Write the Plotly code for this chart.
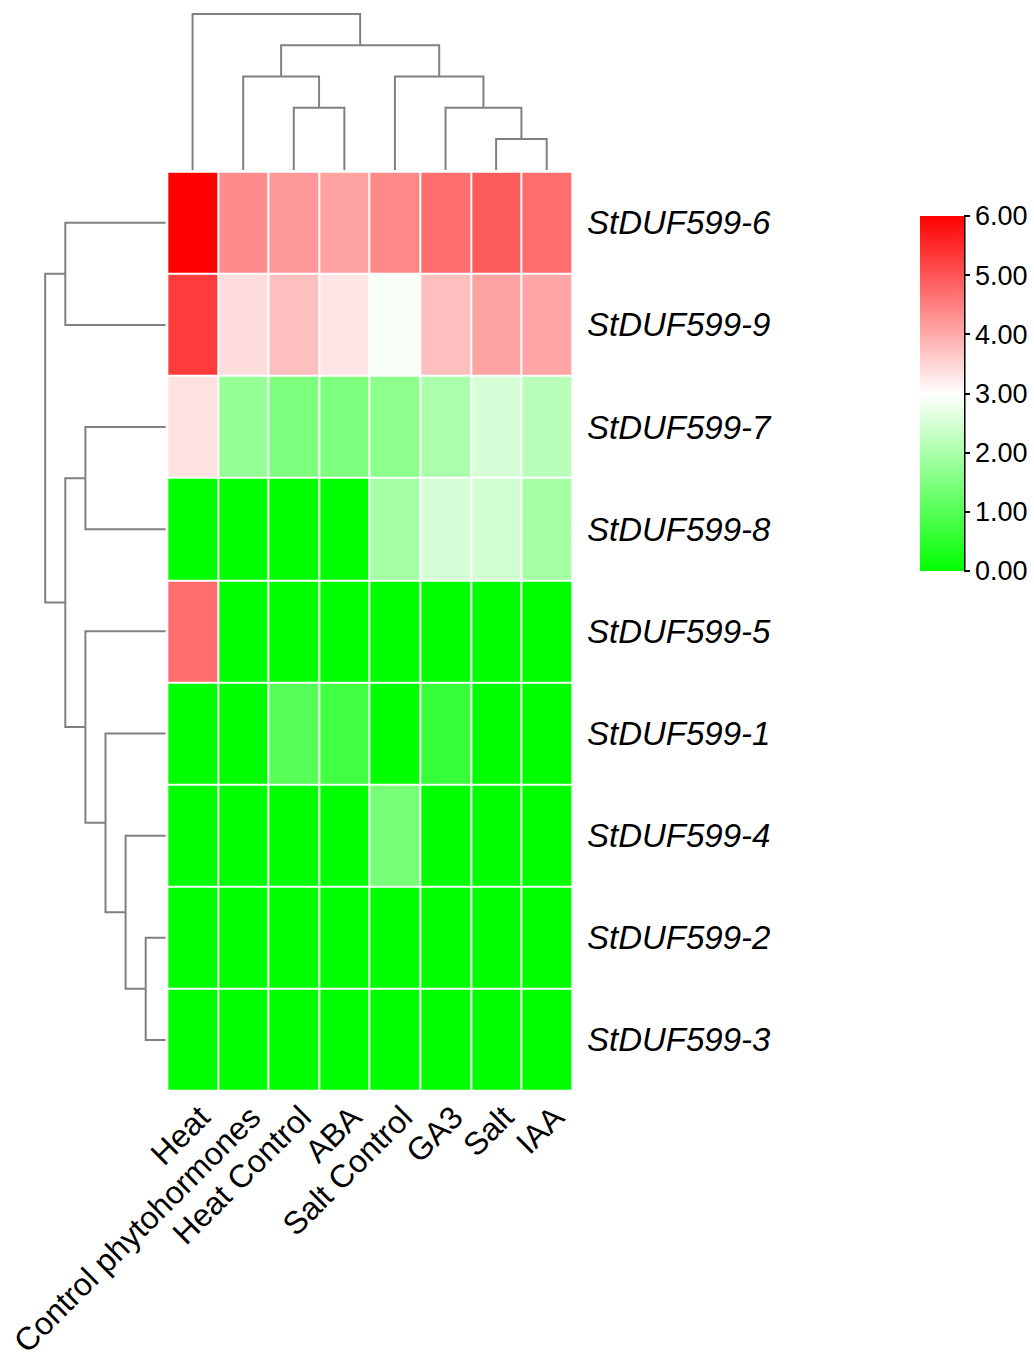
import plotly.graph_objects as go

# ---------------- data ----------------
columns = ["Heat", "Control phytohormones", "Heat Control", "ABA",
           "Salt Control", "GA3", "Salt", "IAA"]
genes = ["StDUF599-6", "StDUF599-9", "StDUF599-7", "StDUF599-8", "StDUF599-5",
         "StDUF599-1", "StDUF599-4", "StDUF599-2", "StDUF599-3"]

row_6 = [6.00, 4.35, 4.20, 4.10, 4.40, 4.70, 4.90, 4.70]
row_9 = [5.30, 3.40, 3.75, 3.30, 2.90, 3.75, 4.10, 4.05]
row_7 = [3.35, 1.76, 1.47, 1.47, 1.65, 2.00, 2.53, 2.18]
row_8 = [0.00, 0.00, 0.00, 0.00, 1.94, 2.53, 2.47, 1.94]
row_5 = [4.70, 0.00, 0.00, 0.00, 0.00, 0.00, 0.00, 0.00]
row_1 = [0.00, 0.00, 1.00, 0.76, 0.00, 0.65, 0.00, 0.00]
row_4 = [0.00, 0.00, 0.00, 0.00, 1.41, 0.00, 0.00, 0.00]
row_2 = [0.00, 0.00, 0.00, 0.00, 0.00, 0.00, 0.00, 0.00]
row_3 = [0.00, 0.00, 0.00, 0.00, 0.00, 0.00, 0.00, 0.00]
values = [row_6, row_9, row_7, row_8, row_5, row_1, row_4, row_2, row_3]

# linkage: (left node, right node, height); leaves are 0..n-1, new clusters n, n+1, ...
col_linkage = [(6, 7, 1), (2, 3, 2), (5, 8, 2), (1, 9, 3), (4, 10, 3), (11, 12, 4), (0, 13, 5)]
row_linkage = [(7, 8, 1), (6, 9, 2), (5, 10, 3), (4, 11, 4), (2, 3, 4), (13, 12, 5),
               (0, 1, 5), (15, 14, 6)]

cbar_ticks = [0, 1, 2, 3, 4, 5, 6]
cbar_text = ["0.00", "1.00", "2.00", "3.00", "4.00", "5.00", "6.00"]

# ---------------- layout helpers ----------------
W, H = 1034, 1362
def px(x):
    return x / W
def py(y):
    return 1 - y / H

FONT = "Arial, 'Liberation Sans', sans-serif"
LINE = "#808080"

hm_x = [px(167.3), px(572)]
hm_y = [py(1091), py(171.7)]


def dendro_segments(linkage, n):
    pos = {i: float(i) for i in range(n)}
    hgt = {i: 0.0 for i in range(n)}
    xs, hs = [], []
    for k, (a, b, h) in enumerate(linkage):
        xa, xb = pos[a], pos[b]
        xs += [xa, xa, xb, xb, None]
        hs += [hgt[a], h, h, hgt[b], None]
        pos[n + k] = (xa + xb) / 2
        hgt[n + k] = h
    return xs, hs


fig = go.Figure()

# heatmap
fig.add_trace(go.Heatmap(
    z=values,
    x=list(range(len(columns))),
    y=list(range(len(genes))),
    zmin=0, zmax=6,
    colorscale=[[0, "#00ff00"], [0.5, "#ffffff"], [1, "#ff0000"]],
    xgap=2, ygap=2,
    xaxis="x", yaxis="y",
    colorbar=dict(
        x=px(920), xanchor="left", y=py(216), yanchor="top",
        len=(571 - 216) / H, lenmode="fraction",
        thickness=44, thicknessmode="pixels",
        xpad=0, ypad=0, outlinewidth=0,
        tickmode="array", tickvals=cbar_ticks, ticktext=cbar_text,
        ticks="outside", ticklen=6, tickwidth=2, tickcolor="black",
        tickfont=dict(family=FONT, size=27, color="black"),
    ),
    hoverongaps=False,
))

# top dendrogram
cx, ch = dendro_segments(col_linkage, len(columns))
fig.add_trace(go.Scatter(x=cx, y=ch, mode="lines", line=dict(color=LINE, width=2),
                         xaxis="x2", yaxis="y2", hoverinfo="skip", showlegend=False))
# left dendrogram
ry, rh = dendro_segments(row_linkage, len(genes))
fig.add_trace(go.Scatter(x=rh, y=ry, mode="lines", line=dict(color=LINE, width=2),
                         xaxis="x3", yaxis="y3", hoverinfo="skip", showlegend=False))

top_unit = 31.25
left_unit = 20.1

fig.update_layout(
    width=W, height=H,
    margin=dict(l=0, r=0, t=0, b=0, autoexpand=False),
    paper_bgcolor="white", plot_bgcolor="white",
    showlegend=False,
    xaxis=dict(domain=hm_x, range=[-0.5, len(columns) - 0.5],
               tickvals=list(range(len(columns))), ticktext=columns,
               tickangle=-45, ticks="", showgrid=False, zeroline=False, showline=False,
               tickfont=dict(family=FONT, size=32, color="black"), anchor="y",
               ticklabelstandoff=0, ticklabelshift=8,
               automargin=False, ticklabeloverflow="allow"),
    yaxis=dict(domain=hm_y, range=[len(genes) - 0.5, -0.5],
               tickvals=list(range(len(genes))), ticktext=genes, side="right",
               ticks="", showgrid=False, zeroline=False, showline=False,
               tickfont=dict(family=FONT, size=33, color="black", style="italic"),
               anchor="x", ticklabelstandoff=14, automargin=False,
               ticklabeloverflow="allow"),
    xaxis2=dict(domain=hm_x, range=[-0.5, len(columns) - 0.5], visible=False,
                anchor="y2", automargin=False),
    yaxis2=dict(domain=[py(170.25), py(8)], range=[0, (170.25 - 8) / top_unit],
                visible=False, anchor="x2", automargin=False),
    xaxis3=dict(domain=[px(20), px(165.8)], range=[(165.8 - 20) / left_unit, 0],
                visible=False, anchor="y3", automargin=False),
    yaxis3=dict(domain=hm_y, range=[len(genes) - 0.5, -0.5], visible=False,
                anchor="x3", automargin=False),
    shapes=[dict(type="line", xref="paper", yref="paper",
                 x0=px(964.5), x1=px(964.5), y0=py(216), y1=py(571),
                 line=dict(color="black", width=2))],
)

fig.write_html("out.html", config={"displayModeBar": False},
               post_script="document.body.style.margin='0';document.body.style.overflow='hidden';")
